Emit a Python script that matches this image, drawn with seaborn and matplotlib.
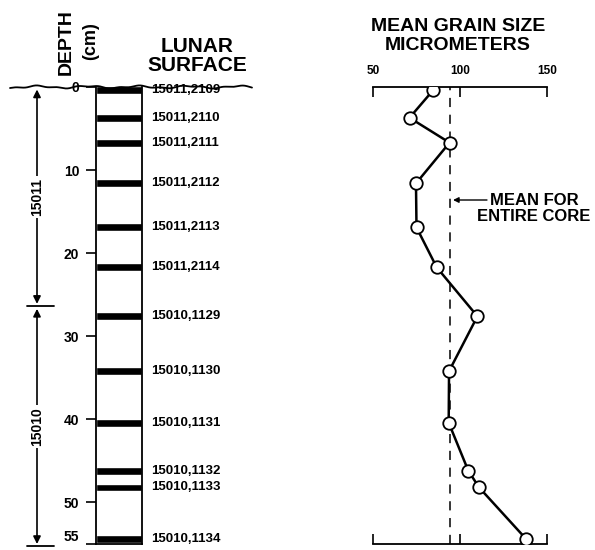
"""mean grain size down the 15010/15011 lunar drive tube"""

import numpy as np
import matplotlib.pyplot as plt
from matplotlib.lines import Line2D
from matplotlib.transforms import blended_transform_factory
import seaborn as sns

sample_ids = [
    "15011,2109", "15011,2110", "15011,2111", "15011,2112", "15011,2113",
    "15011,2114", "15010,1129", "15010,1130", "15010,1131", "15010,1132",
    "15010,1133", "15010,1134",
]
sample_depth = [0.4, 3.7, 6.7, 11.6, 16.9, 21.7, 27.6, 34.2, 40.4, 46.2, 48.2, 54.4]
grain_size = [84.5, 71, 94, 74.7, 75, 86.6, 110, 93.7, 93.5, 104.8, 111, 138]
core_mean = 94
core_names = ["15011", "15010"]
core_top = [0, 26.4]
core_bottom = [26.4, 55.3]
depth_ticks = [0, 10, 20, 30, 40, 50, 55]
size_ticks = [50, 100, 150]

W, H = 595, 550


def px_box(x0, y0, x1, y1):
    return [x0 / W, 1 - y1 / H, (x1 - x0) / W, (y1 - y0) / H]


sns.set_theme(style="white")
plt.rcParams["font.family"] = ["Liberation Sans", "DejaVu Sans"]
plt.rcParams["font.weight"] = "bold"
plt.rcParams["text.color"] = "black"

fig = plt.figure(figsize=(W / 100, H / 100), dpi=100)
fig.patch.set_facecolor("white")

# core column
ax_core = fig.add_axes(px_box(96, 87, 142, 544))
ax_core.barh(sample_depth, 1, height=0.95, left=0, color="black")
ax_core.set_xlim(0, 1)
ax_core.set_ylim(55, 0)
ax_core.set_xticks([])
ax_core.set_yticks(depth_ticks)
ax_core.tick_params(axis="y", left=True, direction="out", length=7, width=1.2,
                    pad=5, labelsize=10, colors="black")
for lbl in ax_core.get_yticklabels():
    lbl.set_fontweight("bold")
ax_core.get_yticklabels()[-1].set_va("bottom")
for s in ["left", "right", "bottom"]:
    ax_core.spines[s].set_color("black")
    ax_core.spines[s].set_linewidth(1.3)
ax_core.spines["top"].set_visible(False)

lab_tr = blended_transform_factory(ax_core.transAxes, ax_core.transData)
for name, d in zip(sample_ids, sample_depth):
    ax_core.text(1.19, d, name, transform=lab_tr, ha="left", va="center",
                 fontsize=9.5, fontweight="bold", clip_on=False)

# core section brackets
br_tr = blended_transform_factory(fig.transFigure, ax_core.transData)
bx = 37 / W
for name, top, bot in zip(core_names, core_top, core_bottom):
    ax_core.annotate("", xy=(bx, top + 0.3), xytext=(bx, bot - 0.3),
                     xycoords=br_tr, textcoords=br_tr, annotation_clip=False,
                     arrowprops=dict(arrowstyle="<|-|>", color="black", lw=1.2,
                                     mutation_scale=11, shrinkA=0, shrinkB=0))
    ax_core.text(bx, (top + bot) / 2, name, transform=br_tr, rotation=90,
                 ha="center", va="center", fontsize=10, fontweight="bold",
                 bbox=dict(facecolor="white", edgecolor="none", pad=1.5),
                 zorder=5, clip_on=False)
    ax_core.plot([27 / W, 54 / W], [bot, bot], transform=br_tr, color="black",
                 lw=1.3, clip_on=False)

# lunar surface line
xs = np.linspace(10, 252, 240)
ys = 87 + 1.0 * np.sin(xs / 8.0) + 0.6 * np.sin(xs / 3.3)
fig.add_artist(Line2D(xs / W, 1 - ys / H, color="black", lw=1.3))

fig.text(66 / W, 1 - 42 / H, "DEPTH", rotation=90, ha="center", va="center",
         fontsize=14, fontweight="bold")
fig.text(91 / W, 1 - 41 / H, "(cm)", rotation=90, ha="center", va="center",
         fontsize=13, fontweight="bold")
fig.text(197 / W, 1 - 56 / H, "LUNAR\nSURFACE", ha="center", va="center",
         fontsize=15, fontweight="bold", linespacing=1.0)

# grain size profile
ax_size = fig.add_axes(px_box(373, 87, 547, 544))
sns.lineplot(x=grain_size, y=sample_depth, sort=False, estimator=None, ax=ax_size,
             color="black", lw=1.8, marker="o", markersize=9,
             markerfacecolor="white", markeredgecolor="black", markeredgewidth=1.3,
             zorder=3)
ax_size.axvline(core_mean, color="black", lw=1.1, ls=(0, (6, 5)), zorder=1)
ax_size.set_xlim(50, 150)
ax_size.set_ylim(55, 0)
ax_size.set_xticks(size_ticks)
ax_size.set_yticks([])
ax_size.set_xlabel("")
ax_size.set_ylabel("")
ax_size.tick_params(axis="x", top=True, bottom=True, labeltop=True,
                    labelbottom=False, direction="in", length=7, width=1.2,
                    pad=7, labelsize=8.5, colors="black")
for lbl in ax_size.get_xticklabels():
    lbl.set_fontweight("bold")
for s in ["left", "right"]:
    ax_size.spines[s].set_visible(False)
for s in ["top", "bottom"]:
    ax_size.spines[s].set_color("black")
    ax_size.spines[s].set_linewidth(1.3)

ax_size.annotate("", xy=(96, 13.6), xytext=(115.5, 13.6), annotation_clip=False,
                 arrowprops=dict(arrowstyle="-|>", color="black", lw=1.0,
                                 mutation_scale=8, shrinkA=0, shrinkB=0))
ax_size.text(142.5, 14.6, "MEAN FOR\nENTIRE CORE", ha="center", va="center",
             fontsize=12, fontweight="bold", linespacing=1.05, clip_on=False)

fig.text(458 / W, 1 - 36 / H, "MEAN GRAIN SIZE\nMICROMETERS", ha="center",
         va="center", fontsize=14, fontweight="bold")

plt.savefig("out.png", dpi=100)
plt.close()
